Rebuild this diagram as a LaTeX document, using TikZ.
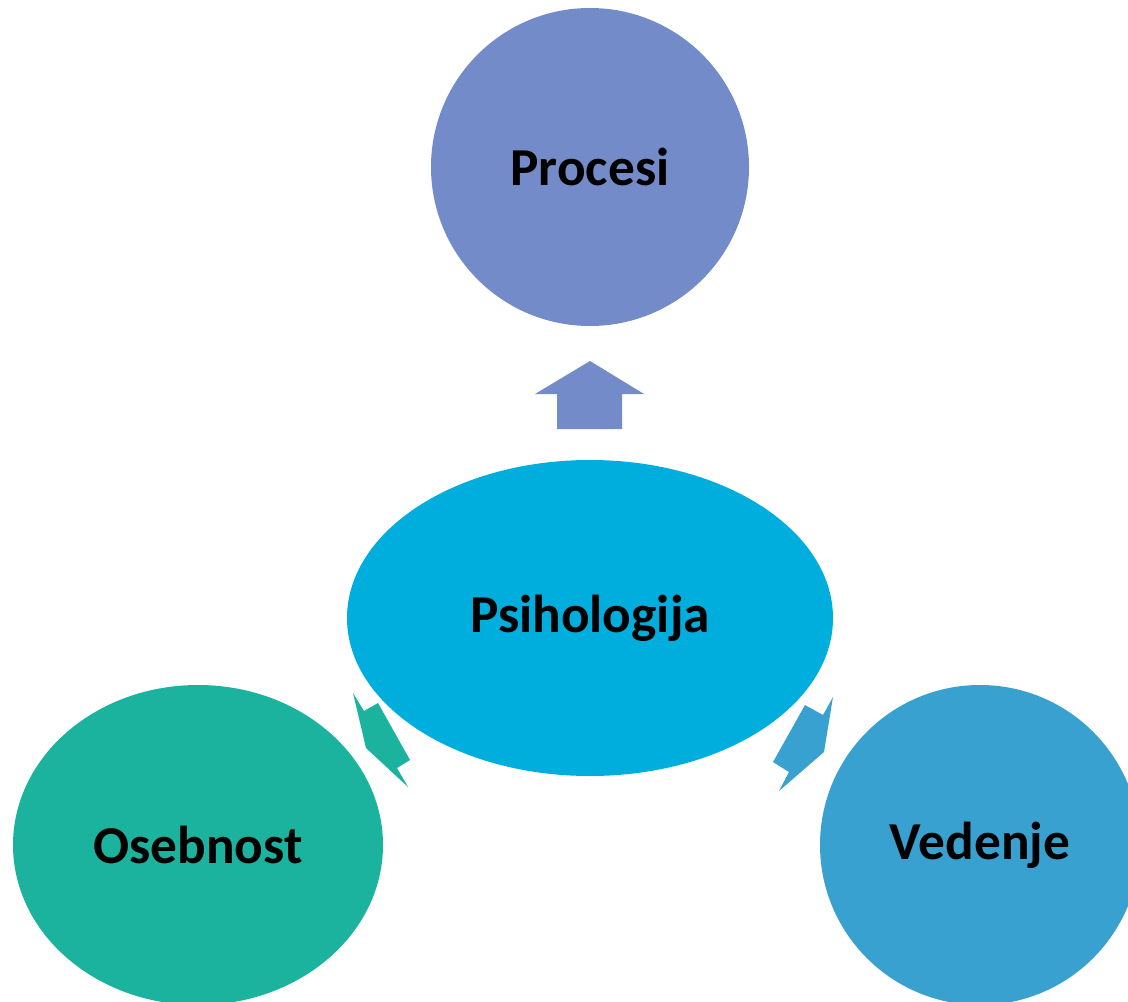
\documentclass[tikz,border=0pt]{standalone}
\usepackage{fontspec}
\setmainfont{Carlito}
\usetikzlibrary{shapes.geometric}
\definecolor{cTop}{HTML}{738BC8}
\definecolor{cMid}{HTML}{00AEDE}
\definecolor{cLeft}{HTML}{1BB39E}
\definecolor{cRight}{HTML}{38A1CF}
\tikzset{
  blob/.style={ellipse, inner sep=0pt, draw=none, font=\fontsize{40}{45}\selectfont\bfseries, text=black},
}
\begin{document}
\begin{tikzpicture}[x=0.75pt,y=-0.75pt]
\useasboundingbox (0,0) rectangle (1128,1002);
\clip (0,0) rectangle (1128,1002);
\node[blob, fill=cTop, minimum width=238.5pt, minimum height=238.5pt] (procesi) at (590,167) {Procesi};
\node[blob, fill=cMid, minimum width=364.5pt, minimum height=237pt] (psi) at (590,618) {Psihologija};
\node[blob, fill=cLeft, minimum width=277.5pt, minimum height=240pt] (oseb) at (198,845) {Osebnost};
\node[blob, fill=cRight, minimum width=240pt, minimum height=240pt] (ved) at (980,845) {Vedenje};
% arrows
\fill[cTop] (557,429) -- (557,394) -- (535,394) -- (590,361) -- (644,394) -- (622,394) -- (622,429) -- cycle;
\fill[cLeft] (353,693) -- (366,748) -- (408,787) -- (397,768) -- (410,760) -- (378,703) -- (364,711) -- cycle;
\fill[cRight] (833,697) -- (824,752) -- (779,791) -- (789,772) -- (773,762) -- (805,705) -- (823,715) -- cycle;
\end{tikzpicture}
\end{document}
